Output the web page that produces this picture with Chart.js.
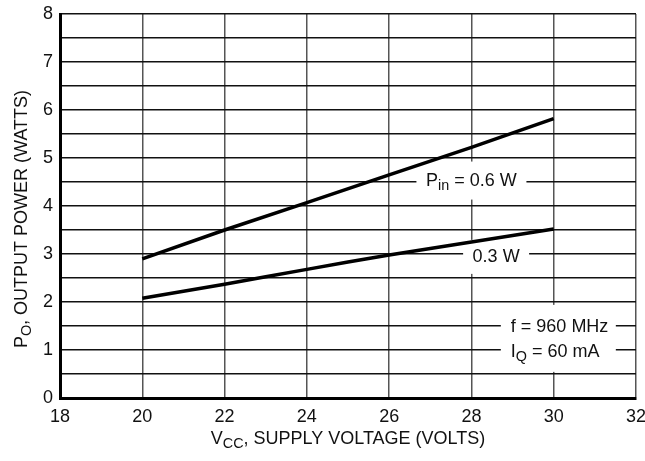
<!DOCTYPE html>
<html lang="en">
<head>
  <meta charset="UTF-8">
  <title>Output Power vs Supply Voltage</title>
  <style>
    body { margin: 0; background: #fff; }
    #wrap { width: 645px; height: 461px; }
  </style>
</head>
<body>
  <div id="wrap"><canvas id="powerChart"></canvas></div>

  <script src="https://cdn.jsdelivr.net/npm/chart.js"></script>
  <script>
    // supply voltage (V) and output power (W)
    const vcc = [20, 22, 24, 26, 28, 30];
    const pin06 = [2.9, 3.5, 4.07, 4.65, 5.22, 5.82];
    const pin03 = [2.08, 2.37, 2.68, 2.98, 3.25, 3.52];
    const xTicks = [18, 20, 22, 24, 26, 28, 30, 32];
    const yTicks = [0, 1, 2, 3, 4, 5, 6, 7, 8];
    const yGrid = [0, 0.5, 1, 1.5, 2, 2.5, 3, 3.5, 4, 4.5, 5, 5.5, 6, 6.5, 7, 7.5, 8];

    const FONT = '"Liberation Sans Narrow", "Liberation Sans", Arial, sans-serif';

    function toPoints(xs, ys) {
      return xs.map((x, i) => ({ x: x, y: ys[i] }));
    }

    // text with a subscript part, drawn left to right
    function drawRich(ctx, parts, x, y, size, align) {
      let total = 0;
      parts.forEach(p => {
        ctx.font = (p.sub ? size * 0.8 : size) + 'px ' + FONT;
        p.w = ctx.measureText(p.t).width;
        total += p.w;
      });
      let cx = align === 'center' ? x - total / 2 : x;
      ctx.textAlign = 'left';
      ctx.textBaseline = 'middle';
      parts.forEach(p => {
        ctx.font = (p.sub ? size * 0.8 : size) + 'px ' + FONT;
        ctx.fillText(p.t, cx, p.sub ? y + size * 0.3 : y);
        cx += p.w;
      });
      return total;
    }

    const labelsPlugin = {
      id: 'labels',
      // boxes and labels go over the grid but under the curves
      beforeDatasetsDraw(chart) {
        const ctx = chart.ctx;
        const xs = chart.scales.x, ys = chart.scales.y;
        ctx.save();

        const notes = [
          { x: 28.0, y: 4.53, parts: [{ t: 'P' }, { t: 'in', sub: true }, { t: ' = 0.6 W' }], w: 110, h: 38 },
          { x: 28.6, y: 2.94, parts: [{ t: '0.3 W' }], w: 66, h: 34 }
        ];
        notes.forEach(n => {
          const px = xs.getPixelForValue(n.x), py = ys.getPixelForValue(n.y);
          ctx.fillStyle = '#fff';
          ctx.fillRect(px - n.w / 2, py - n.h / 2, n.w, n.h);
          ctx.fillStyle = '#111';
          drawRich(ctx, n.parts, px, py, 18, 'center');
        });

        // conditions block
        const bx = xs.getPixelForValue(30.1);
        ctx.fillStyle = '#fff';
        ctx.fillRect(bx - 57, ys.getPixelForValue(1.94), 115, 67);
        ctx.fillStyle = '#111';
        drawRich(ctx, [{ t: 'f = 960 MHz' }], bx - 47, ys.getPixelForValue(1.47), 18, 'left');
        drawRich(ctx, [{ t: 'I' }, { t: 'Q', sub: true }, { t: ' = 60 mA' }], bx - 47, ys.getPixelForValue(0.96), 18, 'left');
        ctx.restore();
      },
      afterDraw(chart) {
        const ctx = chart.ctx;
        const area = chart.chartArea;
        ctx.save();
        ctx.fillStyle = '#111';
        // axis titles
        ctx.save();
        ctx.translate(22, 219);
        ctx.rotate(-Math.PI / 2);
        drawRich(ctx, [{ t: 'P' }, { t: 'O', sub: true }, { t: ', OUTPUT POWER (WATTS)' }], 0, 0, 18, 'center');
        ctx.restore();
        drawRich(ctx, [{ t: 'V' }, { t: 'CC', sub: true }, { t: ', SUPPLY VOLTAGE (VOLTS)' }], (area.left + area.right) / 2, 439, 18, 'center');
        ctx.restore();
      }
    };

    new Chart(document.getElementById('powerChart'), {
      type: 'line',
      data: {
        datasets: [
          { label: 'Pin = 0.6 W', data: toPoints(vcc, pin06), borderColor: '#000', borderWidth: 3.5, pointRadius: 0, tension: 0 },
          { label: 'Pin = 0.3 W', data: toPoints(vcc, pin03), borderColor: '#000', borderWidth: 3.5, pointRadius: 0, tension: 0.2 }
        ]
      },
      options: {
        responsive: true,
        maintainAspectRatio: false,
        animation: false,
        layout: { padding: { top: 14, right: 9, left: 0, bottom: 0 } },
        plugins: { legend: { display: false }, tooltip: { enabled: false } },
        scales: {
          x: {
            type: 'linear',
            min: 18, max: 32,
            afterBuildTicks: s => { s.ticks = xTicks.map(v => ({ value: v })); },
            afterFit: s => { s.height = 63; s.paddingLeft = 0; s.paddingRight = 0; },
            grid: { color: '#555', lineWidth: 1.5, drawTicks: false },
            border: { color: '#000', width: 3 },
            ticks: { color: '#111', padding: 8, font: { family: FONT, size: 18 } }
          },
          y: {
            min: 0, max: 8,
            afterBuildTicks: s => { s.ticks = yGrid.map(v => ({ value: v })); },
            ticks: {
              autoSkip: false,
              color: '#111', padding: 7,
              font: { family: FONT, size: 18 },
              callback: v => (yTicks.includes(v) ? v : '')
            },
            afterFit: s => { s.width = 60; s.paddingTop = 0; s.paddingBottom = 0; },
            grid: { color: '#111', lineWidth: 1.5, drawTicks: false },
            border: { color: '#000', width: 3 }
          }
        }
      },
      plugins: [labelsPlugin]
    });
  </script>
</body>
</html>
